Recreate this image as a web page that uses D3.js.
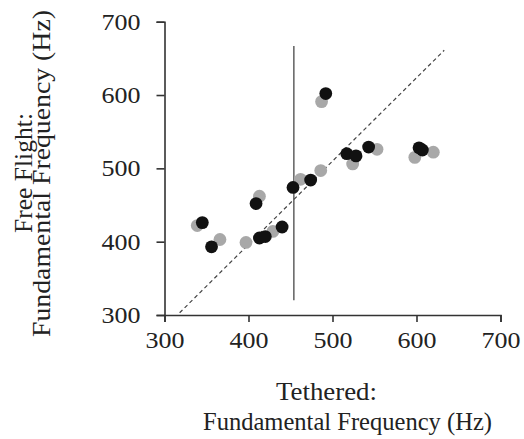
<!DOCTYPE html>
<html>
<head>
<meta charset="utf-8">
<script src="https://cdn.jsdelivr.net/npm/d3@7"></script>
<style>
  body { margin: 0; background: #fff; }
  text { font-family: "Liberation Serif", "Times New Roman", serif; fill: #222; }
</style>
</head>
<body>
<div id="chart-area"></div>
<script>
// tick values
var xTicks = [300, 400, 500, 600, 700];
var yTicks = [300, 400, 500, 600, 700];

// tethered (x) vs free flight (y), gray series
var grayX = [339, 366, 397, 413, 429, 462, 486, 487, 524, 553, 598, 620];
var grayY = [422, 403, 399, 462, 414, 485, 497, 591, 506, 526, 515, 522];

// black series
var blackX = [345, 356, 409, 413, 420, 440, 453, 474, 492, 517, 528, 543, 603, 607];
var blackY = [426, 393, 452, 405, 407, 420, 474, 484, 602, 520, 517, 529, 528, 525];

// reference lines
var threshold = 454;
var thresholdRange = [320, 667];
var diagX = [318, 633];
var diagY = [303, 661];

var margin = {left: 164.5, top: 21.7};
var width = 336;
var height = 293.3;

var x = d3.scaleLinear().domain([300, 700]).range([0, width]);
var y = d3.scaleLinear().domain([300, 700]).range([height, 0]);

var svg = d3.select("#chart-area")
    .append("svg")
    .attr("width", 524)
    .attr("height", 439);

var g = svg.append("g")
    .attr("transform", "translate(" + margin.left + "," + margin.top + ")");

// axes
var leftAxis = d3.axisLeft(y).tickValues(yTicks).tickSize(8).tickPadding(16);
var yAxis = g.append("g").attr("class", "y-axis").call(leftAxis);

var bottomAxis = d3.axisBottom(x).tickValues(xTicks).tickSize(7).tickPadding(10);
var xAxis = g.append("g").attr("class", "x-axis")
    .attr("transform", "translate(0," + height + ")")
    .call(bottomAxis);

[yAxis, xAxis].forEach(function(ax) {
    ax.select(".domain").attr("stroke", "#333").attr("stroke-width", 1.6);
    ax.selectAll(".tick line").attr("stroke", "#333").attr("stroke-width", 1.6);
    ax.selectAll(".tick text")
        .attr("font-family", "Liberation Serif, serif")
        .attr("font-size", "23px")
        .attr("textLength", 39)
        .attr("lengthAdjust", "spacingAndGlyphs")
        .attr("fill", "#222");
});

// vertical line
g.append("line")
    .attr("x1", x(threshold)).attr("x2", x(threshold))
    .attr("y1", y(thresholdRange[0])).attr("y2", y(thresholdRange[1]))
    .attr("stroke", "#555")
    .attr("stroke-width", 1.4);

// dashed diagonal
g.append("line")
    .attr("x1", x(diagX[0])).attr("y1", y(diagY[0]))
    .attr("x2", x(diagX[1])).attr("y2", y(diagY[1]))
    .attr("stroke", "#444")
    .attr("stroke-width", 1.2)
    .attr("stroke-dasharray", "4,3");

// points
g.selectAll("circle.gray")
    .data(d3.zip(grayX, grayY))
    .enter().append("circle")
    .attr("class", "gray")
    .attr("cx", function(d) { return x(d[0]); })
    .attr("cy", function(d) { return y(d[1]); })
    .attr("r", 6.4)
    .attr("fill", "#a8a8a8");

g.selectAll("circle.black")
    .data(d3.zip(blackX, blackY))
    .enter().append("circle")
    .attr("class", "black")
    .attr("cx", function(d) { return x(d[0]); })
    .attr("cy", function(d) { return y(d[1]); })
    .attr("r", 6.4)
    .attr("fill", "#111");

// x axis title
svg.append("text")
    .attr("x", 276).attr("y", 400)
    .attr("font-size", "26px")
    .attr("textLength", 101)
    .attr("lengthAdjust", "spacingAndGlyphs")
    .text("Tethered:");
svg.append("text")
    .attr("x", 203).attr("y", 430)
    .attr("font-size", "26px")
    .attr("textLength", 289)
    .attr("lengthAdjust", "spacingAndGlyphs")
    .text("Fundamental Frequency (Hz)");

// y axis title
svg.append("text")
    .attr("transform", "translate(32,233) rotate(-90)")
    .attr("font-size", "26px")
    .attr("textLength", 120)
    .attr("lengthAdjust", "spacingAndGlyphs")
    .text("Free Flight:");
svg.append("text")
    .attr("transform", "translate(50,337) rotate(-90)")
    .attr("font-size", "26px")
    .attr("textLength", 327)
    .attr("lengthAdjust", "spacingAndGlyphs")
    .text("Fundamental Frequency (Hz)");
</script>
</body>
</html>
